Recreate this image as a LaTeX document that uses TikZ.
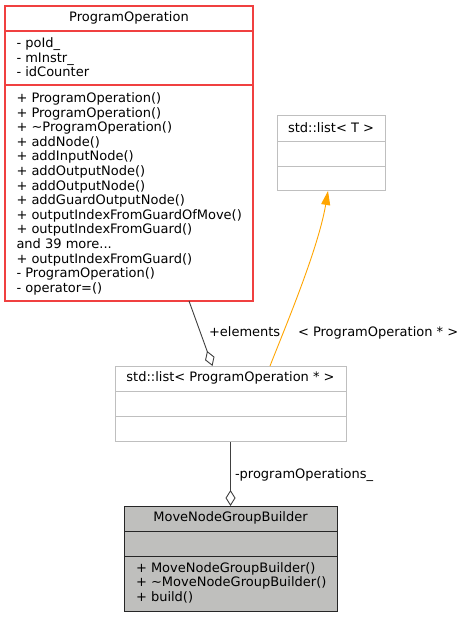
\documentclass[tikz,border=0pt]{standalone}
\usepackage{fontspec}
\setmainfont{DejaVu Sans}
\usetikzlibrary{arrows.meta}
\definecolor{linkRed}{RGB}{240,64,64}
\definecolor{extGray}{RGB}{191,191,191}
\definecolor{edgeDark}{RGB}{64,64,64}
\definecolor{inhOrange}{RGB}{255,165,0}
\definecolor{selfFill}{RGB}{191,191,189}
\begin{document}
\begin{tikzpicture}[
  x=1pt, y=-1pt,
  every node/.style={font=\fontsize{13}{14.6}\selectfont, inner sep=0pt, outer sep=0pt},
  extbox/.style={draw=extGray, line width=1pt, fill=white},
  linkbox/.style={draw=linkRed, line width=1.1pt, fill=white},
  selfbox/.style={draw=black!85, line width=1pt, fill=selfFill},
  ttl/.style={anchor=base},
  mem/.style={anchor=north west, align=left},
  lbl/.style={anchor=base west},
  agg/.style={draw=edgeDark, line width=0.9pt, {Diamond[open,length=16pt,width=10pt]}-},
  inh/.style={draw=inhOrange, line width=0.9pt, -{Triangle[length=14pt,width=9pt]}}
]
\path[use as bounding box, fill=white] (0,0) rectangle (464,617);

% ProgramOperation
\node[linkbox, minimum width=248pt, minimum height=295pt] (po) at (129,153.5) {};
\draw[draw=linkRed, line width=1.1pt] ([yshift=-25pt]po.north west) -- ([yshift=-25pt]po.north east);
\draw[draw=linkRed, line width=1.1pt] ([yshift=-79pt]po.north west) -- ([yshift=-79pt]po.north east);
\node[ttl] (poT) at ([yshift=-15.2pt]po.north) {ProgramOperation};
\node[mem] (poA) at ([xshift=11.5pt, yshift=-31.3pt]po.north west)
  {\strut- poId\_\\- mInstr\_\\- idCounter};
\node[mem] (poM) at ([xshift=11.5pt, yshift=-86.3pt]po.north west)
  {\strut+ ProgramOperation()\\+ ProgramOperation()\\+ \textasciitilde ProgramOperation()\\
   + addNode()\\+ addInputNode()\\+ addOutputNode()\\+ addOutputNode()\\
   + addGuardOutputNode()\\+ outputIndexFromGuardOfMove()\\+ outputIndexFromGuard()\\
   and 39 more...\\+ outputIndexFromGuard()\\- ProgramOperation()\\- operator=()};

% std::list< T >
\node[extbox, minimum width=108pt, minimum height=75pt] (lstT) at (331,153.5) {};
\draw[extGray] ([yshift=-25.5pt]lstT.north west) -- ([yshift=-25.5pt]lstT.north east);
\draw[extGray] ([yshift=-50.5pt]lstT.north west) -- ([yshift=-50.5pt]lstT.north east);
\node[ttl] (lstTT) at ([yshift=-16.5pt]lstT.north) {std::list< T >};

% std::list< ProgramOperation * >
\node[extbox, minimum width=231pt, minimum height=75.5pt] (lstpo) at (230.5,403.75) {};
\draw[extGray] ([yshift=-25pt]lstpo.north west) -- ([yshift=-25pt]lstpo.north east);
\draw[extGray] ([yshift=-50.5pt]lstpo.north west) -- ([yshift=-50.5pt]lstpo.north east);
\node[ttl] (lstpoT) at ([yshift=-15.6pt]lstpo.north) {std::list< ProgramOperation * >};

% MoveNodeGroupBuilder
\node[selfbox, minimum width=213pt, minimum height=105pt] (mngb) at (230.5,558.5) {};
\draw[black!85] ([yshift=-25pt]mngb.north west) -- ([yshift=-25pt]mngb.north east);
\draw[black!85] ([yshift=-50.5pt]mngb.north west) -- ([yshift=-50.5pt]mngb.north east);
\node[ttl] (mngbT) at ([yshift=-15.2pt]mngb.north) {MoveNodeGroupBuilder};
\node[mem] (mngbM) at ([xshift=12pt, yshift=-55.8pt]mngb.north west)
  {\strut+ MoveNodeGroupBuilder()\\+ \textasciitilde MoveNodeGroupBuilder()\\+ build()};

% links
\draw[agg] ([xshift=-18pt]lstpo.north) -- ([xshift=60pt]po.south);
\draw[agg] (mngb.north) -- (lstpo.south);
\draw[inh] ([xshift=39.5pt]lstpo.north) .. controls (284,330) and (318,250) .. ([xshift=-3pt]lstT.south);

\node[lbl] (elemL) at (209,336.7) {+elements};
\node[lbl] (tmplL) at (298,336.7) {< ProgramOperation * >};
\node[lbl] (opsL) at (235,478) {-programOperations\_};
\end{tikzpicture}
\end{document}
